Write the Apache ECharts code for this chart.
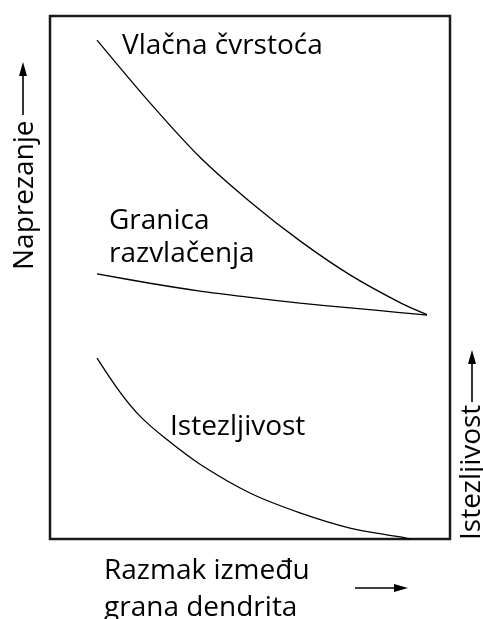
<!DOCTYPE html>
<html>
<head>
<meta charset="utf-8">
<script src="https://cdn.jsdelivr.net/npm/echarts@6/dist/echarts.min.js"></script>
<style>
  html, body { margin: 0; padding: 0; background: #fff; }
  #chart { width: 483px; height: 619px; }
</style>
</head>
<body>
<div id="chart"></div>
<script>
// x: razmak između grana dendrita (0-100), y: relative value (0-100)
const tensileStrength = [[11.75, 95.4], [25, 83.4], [37.5, 73.0], [50, 64.5], [62.5, 57.0], [75, 50.5], [87.5, 45.2], [94.25, 42.9]];
const yieldStrength = [[11.75, 50.7], [25, 48.9], [37.5, 47.4], [50, 46.2], [62.5, 45.1], [75, 44.2], [87.5, 43.3], [94.25, 42.8]];
const ductility = [[11.75, 34.6], [17.5, 28.1], [22.5, 23.5], [28.75, 19.3], [37.5, 14.3], [50, 8.8], [62.5, 5.0], [75, 2.1], [87.5, 0.4], [90, 0]];

const seriesNames = ['Vlačna čvrstoća', 'Granica razvlačenja', 'Istezljivost'];
const yLeftName = 'Naprezanje';
const yRightName = 'Istezljivost';
const xNameLines = ['Razmak između', 'grana dendrita'];

const FONT = '"Open Sans", sans-serif';
const SIZE = 28;
const chart = echarts.init(document.getElementById('chart'), null, { renderer: 'canvas' });

function arrow(x1, y1, x2, y2) {
  const ang = Math.atan2(y2 - y1, x2 - x1);
  const len = 14, half = 4;
  const bx = x2 - len * Math.cos(ang), by = y2 - len * Math.sin(ang);
  const px = -Math.sin(ang) * half, py = Math.cos(ang) * half;
  return [
    { type: 'line', shape: { x1: x1, y1: y1, x2: bx, y2: by }, style: { stroke: '#000', lineWidth: 1.6 } },
    { type: 'polygon', shape: { points: [[x2, y2], [bx + px, by + py], [bx - px, by - py]] }, style: { fill: '#000' } }
  ];
}

// x, y = bottom-left corner of the text box (before rotation)
function label(text, x, y, rot) {
  return {
    type: 'text', x: x, y: y, rotation: rot || 0,
    style: { text: text, font: SIZE + 'px ' + FONT, fill: '#000', align: 'left', verticalAlign: 'bottom' }
  };
}

const lineStyle = { color: '#000', width: 1.3 };

chart.setOption({
  animation: false,
  grid: { left: 50, top: 16, right: 33, bottom: 80, show: true, borderColor: '#1a1a1a', borderWidth: 2.5, backgroundColor: 'transparent' },
  xAxis: { type: 'value', min: 0, max: 100, show: false },
  yAxis: { type: 'value', min: 0, max: 100, show: false },
  series: [
    { name: seriesNames[0], type: 'line', data: tensileStrength, smooth: 0.3, showSymbol: false, lineStyle: lineStyle },
    { name: seriesNames[1], type: 'line', data: yieldStrength, smooth: 0.3, showSymbol: false, lineStyle: lineStyle },
    { name: seriesNames[2], type: 'line', data: ductility, smooth: 0.3, showSymbol: false, lineStyle: lineStyle }
  ],
  graphic: [
    label('Vlačna čvrstoća', 122, 60),
    label('Granica', 109, 235),
    label('razvlačenja', 109, 268),
    label('Istezljivost', 170, 441),
    label(xNameLines[0], 104, 585),
    label(xNameLines[1], 104, 622),
    label(yLeftName, 39, 270, Math.PI / 2),
    label(yRightName, 486, 540, Math.PI / 2)
  ].concat(arrow(23, 115, 23, 62), arrow(472, 402, 472, 350), arrow(355, 588, 408, 588))
});
</script>
</body>
</html>
